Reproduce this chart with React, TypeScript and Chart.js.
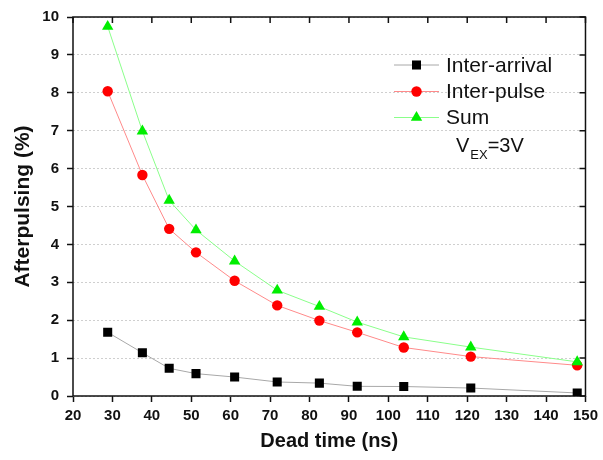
import { useEffect, useRef } from "react";
import { Chart, registerables } from "chart.js";

Chart.register(...registerables);

const deadTime = [28.8, 37.6, 44.4, 51.2, 61.0, 71.8, 82.5, 92.1, 103.9, 120.9, 147.9];
const interArrival = [1.68, 1.14, 0.73, 0.59, 0.5, 0.37, 0.34, 0.255, 0.25, 0.21, 0.08];
const interPulse = [8.04, 5.83, 4.41, 3.79, 3.04, 2.39, 1.99, 1.68, 1.28, 1.04, 0.81];
const sumValues = [9.75, 6.99, 5.16, 4.38, 3.56, 2.79, 2.36, 1.95, 1.56, 1.29, 0.9];

const seriesNames = ["Inter-arrival", "Inter-pulse", "Sum"];
const xTitle = "Dead time (ns)";
const yTitle = "Afterpulsing (%)";
const FONT = '"Liberation Sans", Arial, Helvetica, sans-serif';

const styles = [
  { line: "#a8a8a8", marker: "#000000", shape: "rect", radius: 6.4 },
  { line: "#ff8a8a", marker: "#ff0000", shape: "circle", radius: 5.2 },
  { line: "#8aff8a", marker: "#00ee00", shape: "triangle", radius: 6.6 },
];

function drawMarker(ctx: CanvasRenderingContext2D, shape: string, x: number, y: number, r: number, color: string) {
  ctx.fillStyle = color;
  ctx.beginPath();
  if (shape === "rect") {
    const s = Math.SQRT1_2 * r;
    ctx.rect(x - s, y - s, 2 * s, 2 * s);
  } else if (shape === "circle") {
    ctx.arc(x, y, r, 0, Math.PI * 2);
  } else {
    const w = (r * Math.sqrt(3)) / 2;
    ctx.moveTo(x, y - r);
    ctx.lineTo(x + w, y + r / 2);
    ctx.lineTo(x - w, y + r / 2);
    ctx.closePath();
  }
  ctx.fill();
}

const framePlugin = {
  id: "frameAndLegend",
  beforeDatasetsDraw(chart: any) {
    const { ctx, chartArea, scales } = chart;
    const { left, right, top, bottom } = chartArea;
    ctx.save();
    ctx.strokeStyle = "#111";
    ctx.lineWidth = 1.5;
    ctx.strokeRect(left, top, right - left, bottom - top);
    ctx.beginPath();
    scales.x.ticks.forEach((t: any) => {
      const px = scales.x.getPixelForValue(t.value);
      ctx.moveTo(px, top);
      ctx.lineTo(px, top + 6);
    });
    scales.y.ticks.forEach((t: any) => {
      const py = scales.y.getPixelForValue(t.value);
      ctx.moveTo(right, py);
      ctx.lineTo(right - 6, py);
    });
    ctx.stroke();
    ctx.restore();
  },
  afterDraw(chart: any) {
    const { ctx } = chart;
    ctx.save();
    const rows = [65, 91.5, 117.5];
    seriesNames.forEach((name, i) => {
      const y = rows[i];
      const st = styles[i];
      ctx.strokeStyle = st.line;
      ctx.lineWidth = 1;
      ctx.beginPath();
      ctx.moveTo(394, y);
      ctx.lineTo(439, y);
      ctx.stroke();
      drawMarker(ctx, st.shape, 416.5, y, st.radius, st.marker);
      ctx.fillStyle = "#111";
      ctx.font = `21px ${FONT}`;
      ctx.textBaseline = "middle";
      ctx.textAlign = "left";
      ctx.fillText(name, 446, y + 1);
    });
    // V_EX = 3V annotation
    ctx.fillStyle = "#111";
    ctx.textBaseline = "alphabetic";
    ctx.font = `20px ${FONT}`;
    ctx.fillText("V", 456, 151.5);
    const vW = ctx.measureText("V").width;
    ctx.font = `13px ${FONT}`;
    ctx.fillText("EX", 456 + vW + 1, 159);
    const exW = ctx.measureText("EX").width;
    ctx.font = `20px ${FONT}`;
    ctx.fillText("=3V", 456 + vW + 1 + exW, 151.5);
    ctx.restore();
  },
};

export default function App() {
  const ref = useRef<HTMLCanvasElement | null>(null);
  useEffect(() => {
    document.body.style.margin = "0";
    const canvas = ref.current;
    if (!canvas) return;
    const datasets = [interArrival, interPulse, sumValues].map((vals, i) => ({
      label: seriesNames[i],
      data: vals.map((v, j) => ({ x: deadTime[j], y: v })),
      borderColor: styles[i].line,
      backgroundColor: styles[i].marker,
      pointBackgroundColor: styles[i].marker,
      pointBorderColor: styles[i].marker,
      pointBorderWidth: 0,
      pointStyle: styles[i].shape,
      pointRadius: styles[i].radius,
      borderWidth: 1,
      tension: 0,
      order: 3 - i,
    }));
    const chart = new Chart(canvas, {
      type: "line",
      data: { datasets },
      plugins: [framePlugin],
      options: {
        responsive: false,
        animation: false,
        devicePixelRatio: 1,
        layout: { padding: { left: 0, top: 16, right: 13, bottom: 0 } },
        plugins: { legend: { display: false }, tooltip: { enabled: false } },
        scales: {
          x: {
            type: "linear",
            min: 20,
            max: 150,
            afterFit: (s: any) => {
              s.height = 64;
            },
            ticks: {
              stepSize: 10,
              color: "#111",
              padding: 5,
              font: { family: FONT, size: 15, weight: "bold" },
              maxRotation: 0,
              autoSkip: false,
            },
            grid: {
              drawOnChartArea: false,
              drawTicks: true,
              tickLength: 6,
              tickColor: "#111",
              tickWidth: 1.5,
              color: "#111",
            },
            border: { display: false },
            title: {
              display: true,
              text: xTitle,
              color: "#111",
              font: { family: FONT, size: 20, weight: "bold" },
              padding: { top: 0, bottom: 7 },
            },
          },
          y: {
            type: "linear",
            min: 0,
            max: 10,
            afterFit: (s: any) => {
              s.width = 73;
            },
            ticks: {
              stepSize: 1,
              color: "#111",
              padding: 8,
              font: { family: FONT, size: 15, weight: "bold" },
            },
            grid: {
              drawOnChartArea: true,
              drawTicks: true,
              tickLength: 6,
              tickColor: "#111",
              tickWidth: 1.5,
              tickBorderDash: [],
              color: "#cfcfcf",
              lineWidth: 1,
            },
            border: { display: false, dash: [2, 2] },
            title: {
              display: true,
              text: yTitle,
              color: "#111",
              font: { family: FONT, size: 21, weight: "bold" },
              padding: { top: 11, bottom: 0 },
            },
          },
        },
      },
    } as any);
    return () => chart.destroy();
  }, []);
  return (
    <div style={{ width: 603, height: 460 }}>
      <canvas ref={ref} width={603} height={460} style={{ display: "block" }} />
    </div>
  );
}
